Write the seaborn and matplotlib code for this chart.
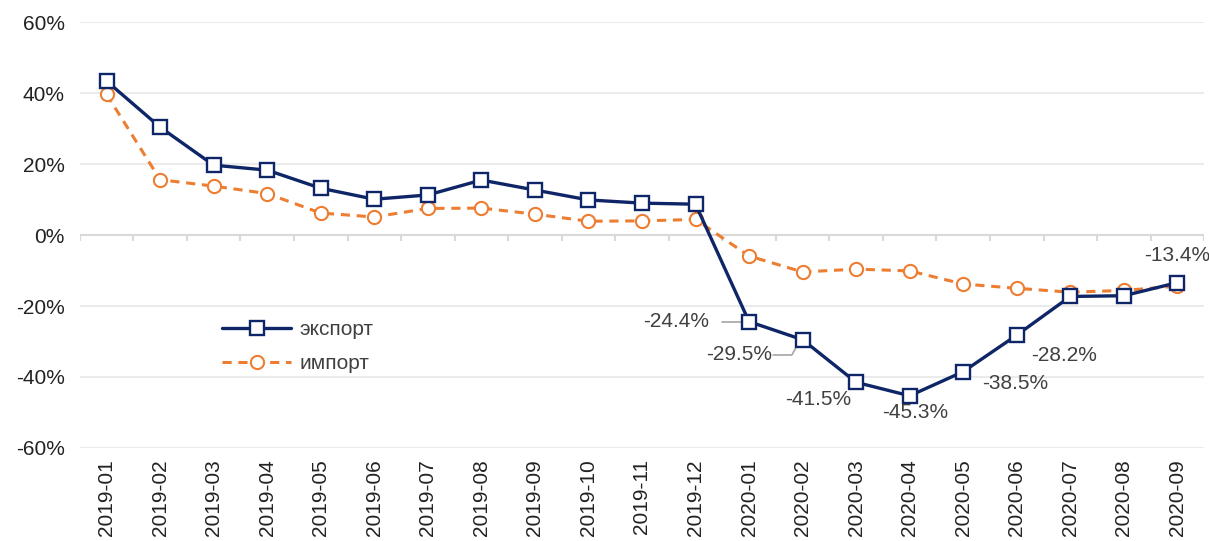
import numpy as np
import pandas as pd
import seaborn as sns
import matplotlib.pyplot as plt

months = ["2019-01", "2019-02", "2019-03", "2019-04", "2019-05", "2019-06",
          "2019-07", "2019-08", "2019-09", "2019-10", "2019-11", "2019-12",
          "2020-01", "2020-02", "2020-03", "2020-04", "2020-05", "2020-06",
          "2020-07", "2020-08", "2020-09"]
export = [43.4, 30.4, 19.7, 18.3, 13.2, 10.1, 11.3, 15.5, 12.7, 9.9, 9.0, 8.7,
          -24.4, -29.5, -41.5, -45.3, -38.5, -28.2, -17.3, -17.1, -13.4]
imports = [39.7, 15.6, 13.8, 11.7, 6.2, 5.1, 7.5, 7.6, 5.9, 3.9, 4.0, 4.4,
           -5.9, -10.4, -9.6, -10.1, -13.8, -15.0, -16.1, -15.6, -14.4]
# label offsets (pixels) for the export data labels
labelled = {12: (-73, 0), 13: (-63, -15), 14: (-38, -17), 15: (6, -17),
            16: (52, -12), 17: (47, -20), 20: (0, 27)}

df = pd.DataFrame({"x": np.arange(len(months)), "экспорт": export, "импорт": imports})

sns.set_style("white")
plt.rcParams["font.family"] = ["Liberation Sans", "DejaVu Sans"]

fig = plt.figure(figsize=(12.09, 5.41), dpi=100)
ax = fig.add_axes([0.066, 0.172, 0.93, 0.787])

navy = "#0e2667"
orange = "#ed7d31"
sns.lineplot(data=df, x="x", y="экспорт", ax=ax, color=navy, lw=2.4, marker="s",
             markersize=9.5, markerfacecolor="white", markeredgecolor=navy,
             markeredgewidth=1.7, label="экспорт", zorder=4)
sns.lineplot(data=df, x="x", y="импорт", ax=ax, color=orange, lw=2.2, ls=(0, (3, 2.2)),
             marker="o", markersize=9.5, markerfacecolor="white", markeredgecolor=orange,
             markeredgewidth=1.5, label="импорт", zorder=3)

ax.set_xlim(-0.5, len(months) - 0.5)
ax.set_ylim(-60, 60)
ax.set_yticks(range(-60, 61, 20))
ax.set_yticklabels([f"{v}%" for v in range(-60, 61, 20)], fontsize=15, color="#222222")
ax.set_xticks(df["x"])
ax.set_xticklabels(months, rotation=90, fontsize=15, color="#222222")
ax.tick_params(axis="y", length=0, pad=11)
ax.tick_params(axis="x", length=0, pad=8)
ax.grid(axis="y", color="#ebebeb", lw=1.5)
for s in ax.spines.values():
    s.set_visible(False)
ax.set_xlabel("")
ax.set_ylabel("")

# category axis at zero with boundary ticks
ax.axhline(0, color="#d9d9d9", lw=1.5, zorder=1)
ax.vlines(np.arange(-0.5, len(months)), -1.8, 0, color="#d9d9d9", lw=1.5, zorder=1)

for i, (dx, dy) in labelled.items():
    ax.annotate(f"{export[i]:.1f}%", (i, export[i]), xytext=(dx, dy),
                textcoords="offset pixels", ha="center", va="center",
                fontsize=15, color="#404040", zorder=5)
# leader lines
ax.plot([12 - 0.5, 12 - 0.13], [export[12], export[12]], color="#a6a6a6", lw=1.2)
ax.plot([13 - 0.55, 13 - 0.2, 13 - 0.08], [export[13] - 4.3, export[13] - 4.3, export[13] - 1.0],
        color="#a6a6a6", lw=1.2)

ax.legend(loc="upper left", bbox_to_anchor=(0.11, 0.345), frameon=False, fontsize=15,
          handlelength=3.3, handletextpad=0.4, labelspacing=0.72, labelcolor="#404040")

fig.savefig("out.png", dpi=100)
